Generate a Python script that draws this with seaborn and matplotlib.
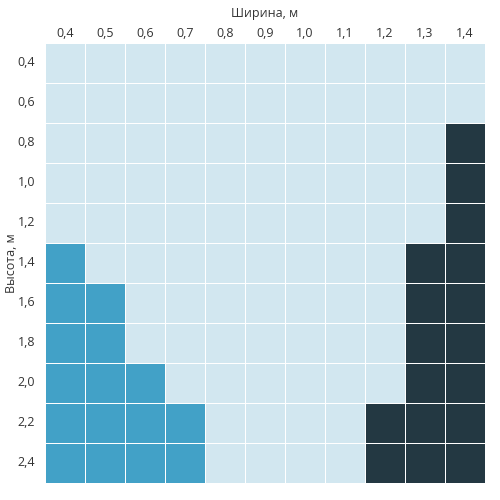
import numpy as np
import pandas as pd
import matplotlib.pyplot as plt
from matplotlib.colors import ListedColormap
import seaborn as sns

sns.set_style('white')
plt.rcParams['font.family'] = ['Open Sans', 'DejaVu Sans']

widths = ['0,4', '0,5', '0,6', '0,7', '0,8', '0,9', '1,0', '1,1', '1,2', '1,3', '1,4']
heights = ['0,4', '0,6', '0,8', '1,0', '1,2', '1,4', '1,6', '1,8', '2,0', '2,2', '2,4']

# 0 - light, 1 - medium blue, 2 - dark
grid = [
    [0, 0, 0, 0, 0, 0, 0, 0, 0, 0, 0],
    [0, 0, 0, 0, 0, 0, 0, 0, 0, 0, 0],
    [0, 0, 0, 0, 0, 0, 0, 0, 0, 0, 2],
    [0, 0, 0, 0, 0, 0, 0, 0, 0, 0, 2],
    [0, 0, 0, 0, 0, 0, 0, 0, 0, 0, 2],
    [1, 0, 0, 0, 0, 0, 0, 0, 0, 2, 2],
    [1, 1, 0, 0, 0, 0, 0, 0, 0, 2, 2],
    [1, 1, 0, 0, 0, 0, 0, 0, 0, 2, 2],
    [1, 1, 1, 0, 0, 0, 0, 0, 0, 2, 2],
    [1, 1, 1, 1, 0, 0, 0, 0, 2, 2, 2],
    [1, 1, 1, 1, 0, 0, 0, 0, 2, 2, 2],
]

df = pd.DataFrame(grid, index=heights, columns=widths)
cmap = ListedColormap(['#d2e7f0', '#42a1c7', '#233842'])

fig = plt.figure(figsize=(5, 5), dpi=100)
ax = fig.add_axes([0.09, 0.034, 0.88, 0.88])
sns.heatmap(df, cmap=cmap, vmin=-0.5, vmax=2.5, cbar=False,
            linewidths=0.7, linecolor='white', ax=ax)

ax.xaxis.tick_top()
ax.xaxis.set_label_position('top')
ax.tick_params(length=0, labelsize=9, colors='#333333')
ax.tick_params(axis='x', pad=2)
ax.tick_params(axis='y', pad=7)
ax.set_xticklabels(widths, rotation=0)
ax.set_yticklabels(heights, rotation=0)
ax.set_xlabel('Ширина, м', fontsize=9, color='#333333')
ax.xaxis.set_label_coords(0.5, 1.06)
ax.set_ylabel('Высота, м', fontsize=9, color='#333333')
ax.yaxis.set_label_coords(-0.062, 0.5)

fig.savefig('out.png', dpi=100)
